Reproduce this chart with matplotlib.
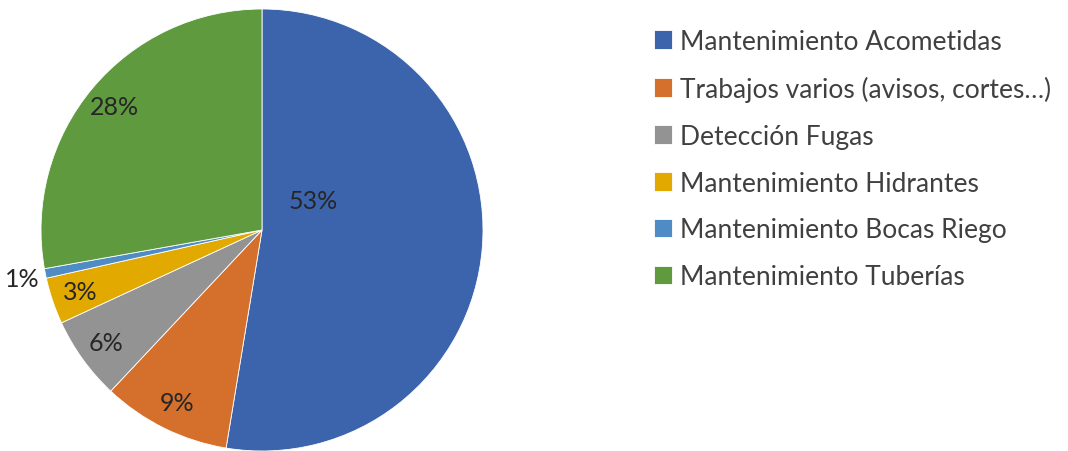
import numpy as np
import matplotlib.pyplot as plt

plt.rcParams['font.family'] = ['Lato', 'DejaVu Sans']

categorias = ['Mantenimiento Acometidas', 'Trabajos varios (avisos, cortes…)',
              'Detección Fugas', 'Mantenimiento Hidrantes',
              'Mantenimiento Bocas Riego', 'Mantenimiento Tuberías']
porcentajes = [52.6, 9.4, 6.1, 3.4, 0.7, 27.8]
colores = ['#3c64ac', '#d4702c', '#939393', '#e2aa00', '#4f8bc4', '#5f9a3f']

fig = plt.figure(figsize=(10.68, 4.52), dpi=100)
ax = fig.add_axes([41 / 1068, 0 / 452, 442 / 1068, 442 / 452])

wedges, texts, autotexts = ax.pie(
    porcentajes, colors=colores, startangle=90, counterclock=False,
    autopct='%.0f%%', pctdistance=0.87, radius=1,
    wedgeprops=dict(edgecolor='white', linewidth=0.6),
    textprops=dict(fontsize=18, color='#262626'))
ax.set_xlim(-1, 1)
ax.set_ylim(-1, 1)
ax.set_aspect('equal')
ax.axis('off')

# etiqueta grande cerca del centro, la pequeña fuera del círculo
autotexts[0].set_position((0.23, 0.135))
autotexts[4].set_position((-1.085, -0.22))

fig.legend(wedges, categorias, loc='upper left', bbox_to_anchor=(630 / 1068, 1 - 6 / 452),
           frameon=False, labelcolor='#404040',
           handlelength=0.7, handleheight=0.7, handletextpad=0.3,
           labelspacing=0.83, prop=dict(size=19))

fig.savefig('out.png', dpi=100)
